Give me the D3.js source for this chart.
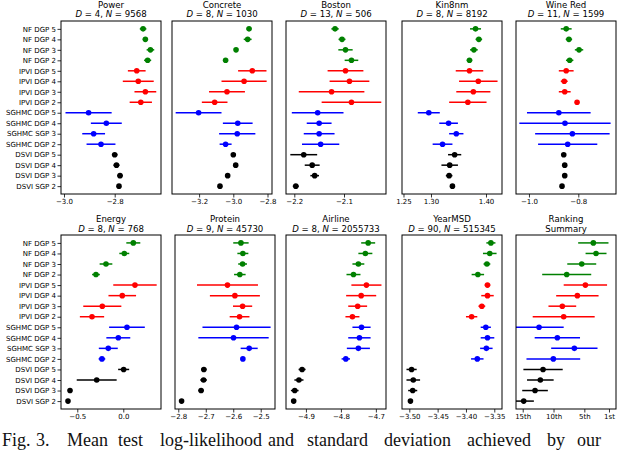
<!DOCTYPE html>
<html>
<head>
<meta charset="utf-8">
<script src="https://cdn.jsdelivr.net/npm/d3@7"></script>
<style>
  body { margin: 0; background: #fff; }
  svg { display: block; font-family: "DejaVu Sans", sans-serif; }
</style>
</head>
<body>
<svg id="chart" width="640" height="453"></svg>
<script>
const methods = [
  "NF DGP 5", "NF DGP 4", "NF DGP 3", "NF DGP 2",
  "IPVI DGP 5", "IPVI DGP 4", "IPVI DGP 3", "IPVI DGP 2",
  "SGHMC DGP 5", "SGHMC DGP 4", "SGHMC SGP 3", "SGHMC DGP 2",
  "DSVI DGP 5", "DSVI DGP 4", "DSVI DGP 3", "DSVI SGP 2"
];
const groupColors = ["#008000", "#ff0000", "#0000ff", "#000000"];

const datasets = ["Power", "Concrete", "Boston", "Kin8nm", "Wine Red",
  "Energy", "Protein", "Airline", "YearMSD", "Ranking"];
const dims = [4, 8, 13, 8, 11, 8, 9, 8, 90, null];
const sizes = [9568, 1030, 506, 8192, 1599, 768, 45730, 2055733, 515345, null];

const powerMean = [-2.688, -2.679, -2.659, -2.670, -2.713, -2.707, -2.679, -2.697, -2.903, -2.833, -2.883, -2.854, -2.800, -2.793, -2.779, -2.783];
const powerStd = [0.013, 0.010, 0.015, 0.014, 0.035, 0.061, 0.043, 0.044, 0.091, 0.061, 0.045, 0.057, 0.011, 0.012, 0.011, 0.007];
const concreteMean = [-2.908, -2.916, -2.984, -3.045, -2.889, -2.937, -3.037, -3.109, -3.203, -2.974, -2.977, -3.045, -3.000, -2.986, -3.033, -3.078];
const concreteStd = [0.014, 0.023, 0.010, 0.010, 0.083, 0.132, 0.105, 0.075, 0.134, 0.087, 0.106, 0.035, 0.010, 0.008, 0.008, 0.008];
const bostonMean = [-2.118, -2.104, -2.097, -2.085, -2.097, -2.089, -2.125, -2.085, -2.153, -2.150, -2.150, -2.147, -2.181, -2.164, -2.159, -2.197];
const bostonStd = [0.0074, 0.007, 0.0144, 0.0137, 0.036, 0.040, 0.066, 0.060, 0.052, 0.025, 0.031, 0.0375, 0.027, 0.015, 0.0087, 0.006];
const kin8nmMean = [1.381, 1.387, 1.378, 1.370, 1.370, 1.386, 1.377, 1.367, 1.296, 1.332, 1.346, 1.321, 1.343, 1.334, 1.333, 1.339];
const kin8nmStd = [0.010, 0.006, 0.007, 0.005, 0.025, 0.035, 0.031, 0.034, 0.020, 0.017, 0.013, 0.018, 0.012, 0.015, 0.006, 0.004];
const wineMean = [-0.849, -0.838, -0.797, -0.835, -0.849, -0.857, -0.855, -0.805, -0.879, -0.854, -0.824, -0.843, -0.859, -0.855, -0.855, -0.866];
const wineStd = [0.022, 0.013, 0.017, 0.015, 0.030, 0.014, 0.024, 0.007, 0.129, 0.185, 0.151, 0.120, 0.005, 0.005, 0.004, 0.004];
const energyMean = [0.109, 0.011, -0.188, -0.297, 0.127, -0.011, -0.228, -0.340, 0.040, -0.054, -0.163, -0.232, 0.004, -0.289, -0.579, -0.601];
const energyStd = [0.076, 0.054, 0.069, 0.042, 0.236, 0.150, 0.207, 0.132, 0.194, 0.130, 0.103, 0.036, 0.060, 0.217, 0.020, 0.015];
const proteinMean = [-2.572, -2.565, -2.566, -2.576, -2.621, -2.594, -2.566, -2.577, -2.588, -2.599, -2.542, -2.565, -2.707, -2.708, -2.717, -2.788];
const proteinStd = [0.028, 0.020, 0.016, 0.021, 0.111, 0.091, 0.035, 0.036, 0.124, 0.128, 0.031, 0.008, 0.010, 0.012, 0.010, 0.008];
const airlineMean = [-4.722, -4.730, -4.750, -4.764, -4.727, -4.742, -4.752, -4.767, -4.741, -4.747, -4.750, -4.786, -4.911, -4.920, -4.932, -4.935];
const airlineStd = [0.020, 0.020, 0.017, 0.020, 0.043, 0.043, 0.027, 0.020, 0.026, 0.032, 0.033, 0.012, 0.010, 0.013, 0.011, 0.006];
const yearMean = [-3.356, -3.358, -3.363, -3.379, -3.362, -3.362, -3.372, -3.390, -3.365, -3.362, -3.364, -3.380, -3.496, -3.493, -3.494, -3.498];
const yearStd = [0.008, 0.012, 0.006, 0.011, 0.005, 0.011, 0.006, 0.010, 0.009, 0.012, 0.011, 0.011, 0.009, 0.012, 0.008, 0.004];
const rankMean = [3.54, 3.10, 5.42, 7.86, 4.83, 6.13, 8.57, 8.35, 12.35, 9.38, 6.62, 10.03, 11.70, 12.14, 13.0, 14.84];
const rankStd = [2.46, 1.70, 2.35, 3.98, 3.52, 3.44, 2.25, 5.03, 4.0, 3.68, 3.76, 4.36, 3.19, 2.16, 2.08, 1.65];

const means = [powerMean, concreteMean, bostonMean, kin8nmMean, wineMean,
  energyMean, proteinMean, airlineMean, yearMean, rankMean];
const stds = [powerStd, concreteStd, bostonStd, kin8nmStd, wineStd,
  energyStd, proteinStd, airlineStd, yearStd, rankStd];

const xLimits = [
  [-3.0118, -2.6173], [-3.3585, -2.7737], [-2.2167, -2.0155], [1.2473, 1.4291], [-1.0525, -0.6472],
  [-0.677, 0.410], [-2.812, -2.448], [-4.957, -4.671], [-3.5129, -3.3364], [16.09, -0.14]
];
const xTicks = [
  [-3.0, -2.8], [-3.2, -3.0, -2.8], [-2.2, -2.1], [1.25, 1.30, 1.40], [-1.0, -0.8],
  [-0.5, 0.0], [-2.8, -2.7, -2.6, -2.5], [-4.9, -4.8, -4.7], [-3.50, -3.45, -3.40, -3.35], [15, 10, 5, 1]
];
const xTickLabels = [
  ["−3.0", "−2.8"], ["−3.2", "−3.0", "−2.8"], ["−2.2", "−2.1"], ["1.25", "1.30", "1.40"], ["−1.0", "−0.8"],
  ["−0.5", "0.0"], ["−2.8", "−2.7", "−2.6", "−2.5"], ["−4.9", "−4.8", "−4.7"],
  ["−3.50", "−3.45", "−3.40", "−3.35"], ["15th", "10th", "5th", "1st"]
];

// layout
const rowTop = [21, 235];
const rowBottom = [194, 409];
const colLeft = [[61, 172, 286, 402, 516], [61, 175, 286, 402, 516]];
const panelW = 100;

const svg = d3.select("#chart");
svg.append("rect").attr("width", 640).attr("height", 453).attr("fill", "#fff");

datasets.forEach((name, i) => {
  const row = Math.floor(i / 5), col = i % 5;
  const left = colLeft[row][col], top = rowTop[row];
  const h = rowBottom[row] - top;

  const x = d3.scaleLinear().domain(xLimits[i]).range([0, panelW]);
  const y = d3.scaleLinear().domain([-0.75, 15.75]).range([0, h]);

  const g = svg.append("g").attr("transform", `translate(${left},${top})`);

  g.append("clipPath").attr("id", "clip" + i)
    .append("rect").attr("width", panelW).attr("height", h);

  const rows = methods.map((m, k) => ({
    k: k,
    mean: means[i][k],
    std: stds[i][k],
    color: groupColors[Math.floor(k / 4)]
  }));

  const marks = g.append("g").attr("clip-path", `url(#clip${i})`);
  marks.selectAll("line").data(rows)
    .join("line")
    .attr("x1", d => x(d.mean - d.std))
    .attr("x2", d => x(d.mean + d.std))
    .attr("y1", d => y(d.k))
    .attr("y2", d => y(d.k))
    .attr("stroke", d => d.color)
    .attr("stroke-width", 1.5);
  marks.selectAll("circle").data(rows)
    .join("circle")
    .attr("cx", d => x(d.mean))
    .attr("cy", d => y(d.k))
    .attr("r", 2.8)
    .attr("fill", d => d.color);

  // x axis
  const xa = g.append("g").attr("transform", `translate(0,${h})`)
    .call(d3.axisBottom(x).tickValues(xTicks[i])
      .tickFormat((d, k) => xTickLabels[i][k])
      .tickSize(3.5).tickPadding(1.5));
  xa.select(".domain").remove();
  xa.selectAll("line").attr("stroke-width", 0.8);
  xa.selectAll("text").attr("font-size", 7).attr("font-family", "DejaVu Sans");

  if (col === 0) {
    const ya = g.append("g")
      .call(d3.axisLeft(y).tickValues(d3.range(methods.length))
        .tickFormat(k => methods[k]).tickSize(3.5).tickPadding(1.5));
    ya.select(".domain").remove();
    ya.selectAll("line").attr("stroke-width", 0.8);
    ya.selectAll("text").attr("font-size", 7).attr("font-family", "DejaVu Sans");
  }

  g.append("rect")
    .attr("width", panelW).attr("height", h)
    .attr("fill", "none").attr("stroke", "#000").attr("stroke-width", 1);

  // two-line title
  const cx = panelW / 2;
  const t1 = row === 0 ? -13.5 : -13.3;
  const t2 = row === 0 ? -4.4 : -3;
  g.append("text").attr("x", cx).attr("y", t1).attr("text-anchor", "middle")
    .attr("font-size", 8.6).text(name);
  const sub = g.append("text").attr("x", cx).attr("y", t2).attr("text-anchor", "middle")
    .attr("font-size", 8.6);
  if (dims[i] === null) {
    sub.text("Summary");
  } else {
    sub.append("tspan").attr("font-style", "italic").text("D");
    sub.append("tspan").text(` = ${dims[i]}, `);
    sub.append("tspan").attr("font-style", "italic").text("N");
    sub.append("tspan").text(` = ${sizes[i]}`);
  }
});

// caption line under the figure
const captionWords = ["Fig.", "3.", "Mean", "test", "log-likelihood", "and", "standard",
  "deviation", "achieved", "by", "our"];
const captionX = [2, 36, 67, 118, 160, 268, 307, 384, 467, 547, 577];
svg.append("g").selectAll("text").data(captionWords)
  .join("text")
  .attr("x", (d, k) => captionX[k])
  .attr("y", 446)
  .attr("font-family", "Liberation Serif, serif")
  .attr("font-size", 18)
  .attr("fill", "#111")
  .text(d => d);
</script>
</body>
</html>
